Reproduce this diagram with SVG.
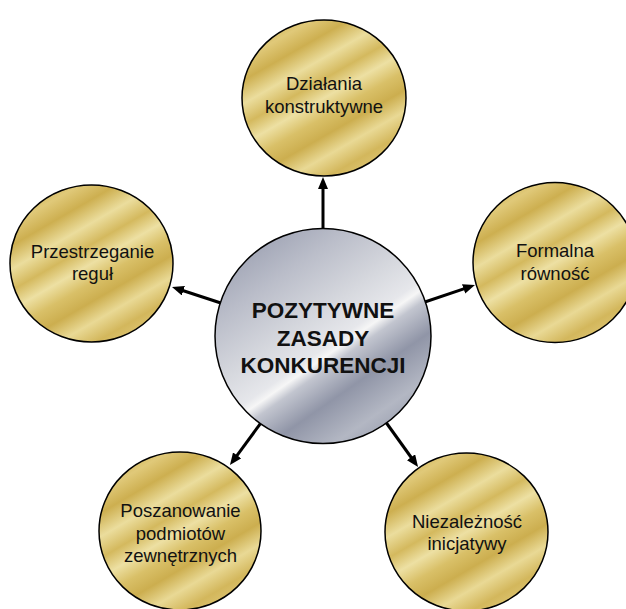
<svg xmlns="http://www.w3.org/2000/svg" width="626" height="609" viewBox="0 0 626 609">
  <defs>
    <!-- brushed gold fill for the outer circles -->
    <linearGradient id="gold" x1="0.2" y1="0" x2="0.8" y2="1">
      <stop offset="0" stop-color="#cfb152"/>
      <stop offset="0.1" stop-color="#e0c979"/>
      <stop offset="0.2" stop-color="#cdaf50"/>
      <stop offset="0.31" stop-color="#ebdd9d"/>
      <stop offset="0.41" stop-color="#d4b95e"/>
      <stop offset="0.5" stop-color="#ede0a3"/>
      <stop offset="0.59" stop-color="#d9c068"/>
      <stop offset="0.68" stop-color="#ccae4f"/>
      <stop offset="0.78" stop-color="#e9d995"/>
      <stop offset="0.88" stop-color="#d3b75c"/>
      <stop offset="1" stop-color="#e2cb7c"/>
    </linearGradient>
    <!-- brushed silver fill for the central circle -->
    <linearGradient id="silver" x1="0.15" y1="0" x2="0.85" y2="1">
      <stop offset="0" stop-color="#979cae"/>
      <stop offset="0.22" stop-color="#babdc9"/>
      <stop offset="0.42" stop-color="#d6d8de"/>
      <stop offset="0.54" stop-color="#e6e7eb"/>
      <stop offset="0.57" stop-color="#f6f6f6"/>
      <stop offset="0.61" stop-color="#c2c5cf"/>
      <stop offset="0.72" stop-color="#9095a7"/>
      <stop offset="0.86" stop-color="#b3b7c3"/>
      <stop offset="1" stop-color="#9297a9"/>
    </linearGradient>
    <marker id="arrow" viewBox="0 0 12 10" refX="4" refY="5" markerWidth="12" markerHeight="10" markerUnits="userSpaceOnUse" orient="auto">
      <path d="M0,0 L12,5 L0,10 z" fill="#000"/>
    </marker>
  </defs>
  <style>
    .gold { fill: url(#gold); stroke: #000; stroke-width: 1.5; }
    .silver { fill: url(#silver); stroke: #000; stroke-width: 1.5; }
    .label { font-family: "Liberation Sans", Arial, sans-serif; font-size: 18.5px; fill: #111; text-anchor: middle; }
    .title { font-family: "Liberation Sans", Arial, sans-serif; font-size: 22.5px; font-weight: bold; fill: #111; text-anchor: middle; }
    .link { fill: none; stroke: #000; stroke-width: 3; marker-end: url(#arrow); }
  </style>
  <rect width="626" height="609" fill="#fff"/>

  <g id="node-dzialania">
    <ellipse class="gold" cx="324" cy="98" rx="82" ry="78"/>
    <text class="label" x="324" y="90">Działania</text>
    <text class="label" x="324" y="113">konstruktywne</text>
  </g>

  <g id="node-przestrzeganie">
    <ellipse class="gold" cx="91.5" cy="263.5" rx="81.5" ry="78.5"/>
    <text class="label" x="92.5" y="258">Przestrzeganie</text>
    <text class="label" x="92.5" y="280">reguł</text>
  </g>

  <g id="node-formalna">
    <ellipse class="gold" cx="555" cy="262.5" rx="82" ry="80"/>
    <text class="label" x="555" y="257">Formalna</text>
    <text class="label" x="555" y="280">równość</text>
  </g>

  <g id="node-poszanowanie">
    <ellipse class="gold" cx="180" cy="531" rx="81" ry="79"/>
    <text class="label" x="180.5" y="517">Poszanowanie</text>
    <text class="label" x="180.5" y="540">podmiotów</text>
    <text class="label" x="180.5" y="562">zewnętrznych</text>
  </g>

  <g id="node-niezaleznosc">
    <ellipse class="gold" cx="466.5" cy="532" rx="81.5" ry="79"/>
    <text class="label" x="467" y="528">Niezależność</text>
    <text class="label" x="467" y="550">inicjatywy</text>
  </g>

  <g id="connectors">
    <path class="link" d="M323,240 L323,185"/>
    <path class="link" d="M230,306 L179.6,289.5"/>
    <path class="link" d="M416,305 L467.4,287.6"/>
    <path class="link" d="M266,416 L234.7,458.6"/>
    <path class="link" d="M380,414 L413.4,460.5"/>
  </g>

  <g id="node-center">
    <ellipse class="silver" cx="323" cy="336" rx="108" ry="107.5"/>
    <text class="title" x="323" y="318">POZYTYWNE</text>
    <text class="title" x="323" y="346">ZASADY</text>
    <text class="title" x="323" y="373">KONKURENCJI</text>
  </g>
</svg>
